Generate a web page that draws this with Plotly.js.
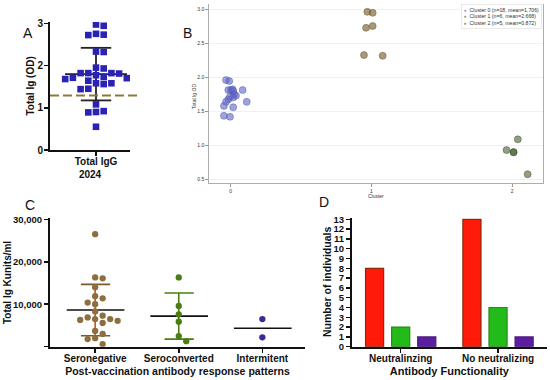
<!DOCTYPE html>
<html><head><meta charset="utf-8">
<script src="https://cdn.plot.ly/plotly-3.0.1.min.js"></script>
<style>html,body{margin:0;padding:0;background:#fff}#chart{width:550px;height:380px}</style>
</head><body><div id="chart"></div>
<script>
// ---------- Panel A data ----------
const aCategory = 'Total IgG';
const aYear = '2024';
const aYTitle = 'Total Ig (OD)';
const aValues = [2.97, 2.94, 2.75, 2.73, 2.72, 2.33, 2.32, 1.95, 1.93, 1.82, 1.82, 1.82, 1.81, 1.77, 1.73, 1.71, 1.70, 1.68, 1.64, 1.58, 1.58, 1.56, 1.45, 1.44, 1.08, 0.92, 0.90, 0.89, 0.55];
const aCutoff = 1.29;
const aTicks = [0, 1, 2, 3];

// ---------- Panel B data ----------
const bLegend = ['Cluster 0 (n=18, mean=1.706)', 'Cluster 1 (n=6, mean=2.668)', 'Cluster 2 (n=5, mean=0.872)'];
const b0x = [-0.033, -0.010, -0.017, 0.002, 0.014, 0.018, 0.085, 0.026, 0.038, -0.005, 0.017, -0.017, -0.033, 0.114, -0.048, 0.018, -0.048, -0.005];
const b0y = [1.960, 1.946, 1.813, 1.813, 1.824, 1.800, 1.813, 1.750, 1.730, 1.715, 1.705, 1.676, 1.640, 1.640, 1.580, 1.560, 1.435, 1.420];
const b1x = [0.971, 1.009, 0.962, 1.009, 0.947, 1.080];
const b1y = [2.965, 2.950, 2.730, 2.755, 2.328, 2.318];
const b2x = [2.04, 1.96, 2.01, 2.01, 2.11];
const b2y = [1.088, 0.930, 0.897, 0.900, 0.574];
const bXTicks = [0, 1, 2];
const bYTicks = [0.5, 1.0, 1.5, 2.0, 2.5, 3.0];
const bXTitle = 'Cluster';
const bYTitle = 'Total Ig OD';

// ---------- Panel C data ----------
const cCategories = ['Seronegative', 'Seroconverted', 'Intermitent'];
const cSeronegative = [26500, 16300, 16100, 14000, 11900, 11400, 10400, 10000, 8300, 7300, 6900, 6500, 6500, 6300, 6100, 5600, 3700, 3000, 2000, 1800, 600];
const cSeroconverted = [16300, 9600, 7600, 5900, 2500, 1300];
const cIntermitent = [6500, 2200];
const cYTicks = [0, 10000, 20000, 30000];
const cYTickText = ['', '10,000', '20,000', '30,000'];
const cXTitle = 'Post-vaccination antibody response patterns';
const cYTitle = 'Total Ig Kunits/ml';

// ---------- Panel D data ----------
const dCategories = ['Neutralinzing', 'No neutralizing'];
const dSeronegative = [8, 13];
const dSeroconverted = [2, 4];
const dIntermitent = [1, 1];
const dYTicks = [0,1,2,3,4,5,6,7,8,9,10,11,12,13];
const dXTitle = 'Antibody Functionality';
const dYTitle = 'Number of individuals';

// ---------- helpers ----------
const W = 550, H = 380;
const FONT = 'Liberation Sans, Arial, Helvetica, sans-serif';
const px = x => x / W;
const py = y => 1 - y / H;
const bold = (s) => ({family: FONT, size: s, color: '#111', weight: 'bold'});
const mean = a => a.reduce((s, v) => s + v, 0) / a.length;
const sd = a => { const m = mean(a); return Math.sqrt(a.reduce((s, v) => s + (v - m) * (v - m), 0) / (a.length - 1)); };

// beeswarm: returns column index per value (columns spaced one marker apart)
function beeswarm(vals, pxPerUnit, diam) {
  const idx = vals.map((v, i) => i).sort((i, j) => vals[j] - vals[i]);
  const placed = [];
  const cols = new Array(vals.length).fill(0);
  idx.forEach(i => {
    const yp = vals[i] * pxPerUnit;
    for (let n = 0; n < 40; n++) {
      const k = n === 0 ? 0 : (n % 2 === 1 ? (n + 1) / 2 : -n / 2);
      if (!placed.some(p => p.c === k && Math.abs(p.y - yp) < diam)) {
        placed.push({c: k, y: yp}); cols[i] = k; break;
      }
    }
  });
  return cols;
}

const traces = [];
const line = (x, y, color, width, xa, ya) => traces.push({type: 'scatter', mode: 'lines', x, y, xaxis: xa, yaxis: ya, line: {color, width}, showlegend: false, hoverinfo: 'skip'});

// ---------- Panel A ----------
const aRange = [0, 3.03];
const aPxPerUnit = (150 - 22) / (aRange[1] - aRange[0]);
const aXRange = [-1.15, 0.85];
const aStep = 7.7 / (80 / (aXRange[1] - aXRange[0]));
const aCols = beeswarm(aValues, aPxPerUnit, 6.8);
const aM = mean(aValues), aS = sd(aValues);
line([0, 0], [aM - aS, aM + aS], '#222', 1.8, 'x', 'y');
line([-0.775, 0.775], [aM, aM], '#222', 1.8, 'x', 'y');
line([-0.38, 0.38], [aM + aS, aM + aS], '#222', 1.8, 'x', 'y');
line([-0.38, 0.38], [aM - aS, aM - aS], '#222', 1.8, 'x', 'y');
traces.push({type: 'scatter', mode: 'markers', x: aCols.map(c => c * aStep), y: aValues, xaxis: 'x', yaxis: 'y',
  marker: {symbol: 'square', size: 6.6, color: '#2a22b5'}, showlegend: false});

// ---------- Panel B ----------
const bColors = ['rgba(95,102,197,0.6)', 'rgba(112,83,33,0.6)', 'rgba(68,95,47,0.6)'];
const bEdges = ['rgba(80,86,170,0.75)', 'rgba(100,78,40,0.75)', 'rgba(60,80,45,0.75)'];
[[b0x, b0y], [b1x, b1y], [b2x, b2y]].forEach((d, i) => {
  traces.push({type: 'scatter', mode: 'markers', x: d[0], y: d[1], xaxis: 'x2', yaxis: 'y2', name: bLegend[i],
    marker: {size: 7, color: bColors[i], line: {color: bEdges[i], width: 0.6}}, showlegend: false});
});

// ---------- Panel C ----------
const cRange = [0, 30300];
const cPxPerUnit = (346.7 - 218) / (cRange[1] - cRange[0]);
const cXRange = [-0.54, 2.51];
const cStep = 7.5 / (255 / (cXRange[1] - cXRange[0]));
const cGroups = [cSeronegative, cSeroconverted, cIntermitent];
const cPointColors = ['#8d6e3f', '#4a7d12', '#3b2b96'];
const cStemColors = ['#cf4a30', '#4a7d12', '#3b2b96'];
const cSdColors = ['#7a5a30', '#4a7d12', '#3b2b96'];
cGroups.forEach((g, gi) => {
  const m = mean(g);
  if (g.length > 2) {
    const s = sd(g);
    line([gi, gi], [m - s, m + s], cStemColors[gi], 1.6, 'x3', 'y3');
    line([gi - 0.17, gi + 0.18], [m + s, m + s], cSdColors[gi], 1.6, 'x3', 'y3');
    line([gi - 0.17, gi + 0.18], [m - s, m - s], cSdColors[gi], 1.6, 'x3', 'y3');
  }
  line([gi - 0.34, gi + 0.35], [m, m], '#111', 1.6, 'x3', 'y3');
  const cols = beeswarm(g, cPxPerUnit, 6.6);
  traces.push({type: 'scatter', mode: 'markers', x: cols.map(c => gi + c * cStep), y: g, xaxis: 'x3', yaxis: 'y3',
    marker: {size: 6.3, color: cPointColors[gi]}, showlegend: false, name: cCategories[gi]});
});

// ---------- Panel D ----------
const dSeries = [dSeronegative, dSeroconverted, dIntermitent];
const dColors = ['#ff1a0a', '#22bb1a', '#5a1e9e'];
const dEdges = ['#8a2a08', '#2a8a18', '#4a1a80'];
dSeries.forEach((s, i) => {
  traces.push({type: 'bar', x: dCategories, y: s, xaxis: 'x4', yaxis: 'y4', name: cCategories[i],
    marker: {color: dColors[i], line: {color: dEdges[i], width: 1.2}}, showlegend: false});
});

// ---------- layout ----------
const axBase = {showline: true, linecolor: '#111', linewidth: 2, ticks: 'outside', ticklen: 4, tickwidth: 1.5, tickcolor: '#111',
  showgrid: false, zeroline: false, fixedrange: true};
const yTitle = (text, x, y, font) => ({text, xref: 'paper', yref: 'paper', x: px(x), y: py(y), textangle: -90,
  showarrow: false, xanchor: 'center', yanchor: 'middle', font});

const layout = {
  width: W, height: H, margin: {l: 0, r: 0, t: 0, b: 0}, paper_bgcolor: '#fff', plot_bgcolor: 'rgba(0,0,0,0)',
  showlegend: false, barmode: 'group', bargap: 0.196, bargroupgap: 0.306,
  font: {family: FONT, color: '#111'},
  // A
  xaxis: Object.assign({}, axBase, {domain: [px(50), px(130)], anchor: 'y', range: aXRange, tickvals: [0], ticktext: [aCategory],
    tickfont: bold(10), ticklabelstandoff: -3, title: {text: aYear, font: bold(10), standoff: 5}}),
  yaxis: Object.assign({}, axBase, {domain: [py(150), py(22)], anchor: 'x', range: aRange, tickvals: aTicks,
    tickfont: bold(10), ticklabelstandoff: -1}),
  // B
  xaxis2: {domain: [px(209), px(542.7)], anchor: 'y2', range: [-0.154, 2.217], tickvals: bXTicks, ticks: 'outside', ticklen: 3, tickwidth: 0.6,
    tickcolor: '#555', showline: true, linecolor: '#999', linewidth: 0.8, showgrid: false, zeroline: false,
    tickfont: {family: FONT, size: 5, color: '#333'}, title: {text: bXTitle, font: {family: FONT, size: 5, color: '#333'}, standoff: 0}},
  yaxis2: {domain: [py(182.7), py(4)], anchor: 'x2', range: [0.45, 3.08], tickvals: bYTicks, tickformat: '.1f', ticks: 'outside', ticklen: 3,
    tickwidth: 0.6, tickcolor: '#555', showline: true, mirror: true, linecolor: '#999', linewidth: 0.8, showgrid: true, gridcolor: '#ececec',
    gridwidth: 0.8, zeroline: false, tickfont: {family: FONT, size: 5, color: '#333'}},
  // C
  xaxis3: Object.assign({}, axBase, {domain: [px(50), px(305)], anchor: 'y3', range: cXRange, tickvals: [0, 1, 2], ticktext: cCategories,
    tickfont: bold(10), ticklabelstandoff: -3, title: {text: cXTitle, font: bold(10.5), standoff: 5}}),
  yaxis3: Object.assign({}, axBase, {domain: [py(346.7), py(218)], anchor: 'x3', range: cRange, tickvals: cYTicks, ticktext: cYTickText,
    tickfont: bold(9.5)}),
  // D
  xaxis4: Object.assign({}, axBase, {domain: [px(352), px(546.7)], anchor: 'y4', type: 'category', range: [-0.5, 1.5],
    tickfont: bold(10), ticklabelstandoff: -3, title: {text: dXTitle, font: bold(11), standoff: 5}}),
  yaxis4: Object.assign({}, axBase, {domain: [py(346.7), py(218.3)], anchor: 'x4', range: [0, 13.1], tickvals: dYTicks,
    tickfont: bold(9.5)}),
  shapes: [
    {type: 'line', xref: 'paper', yref: 'y', x0: px(50), x1: px(137), y0: aCutoff, y1: aCutoff, layer: 'above',
      line: {color: '#8c7a3c', width: 2, dash: '9px,4px'}}
  ],
  annotations: [
    {text: 'A', xref: 'paper', yref: 'paper', x: px(21), y: py(23), showarrow: false, font: {family: FONT, size: 14, color: '#111'}},
    {text: 'B', xref: 'paper', yref: 'paper', x: px(187), y: py(23), showarrow: false, font: {family: FONT, size: 14, color: '#111'}},
    {text: 'C', xref: 'paper', yref: 'paper', x: px(22.5), y: py(205), showarrow: false, font: {family: FONT, size: 14, color: '#111'}},
    {text: 'D', xref: 'paper', yref: 'paper', x: px(323.5), y: py(202), showarrow: false, font: {family: FONT, size: 14, color: '#111'}},
    yTitle(aYTitle, 29.5, 86, bold(10)),
    yTitle(bYTitle, 194, 97, {family: FONT, size: 5, color: '#333'}),
    yTitle(cYTitle, 7, 283, bold(10)),
    yTitle(dYTitle, 326.5, 282.5, bold(10.5)),
    {text: bLegend.map((t, i) => '<span style="color:' + bColors[i] + '">●</span>  ' + t).join('<br>'),
      xref: 'paper', yref: 'paper', x: px(542), y: py(4.5), xanchor: 'right', yanchor: 'top', align: 'left', showarrow: false,
      bgcolor: '#fff', bordercolor: '#dddddd', borderwidth: 0.6, borderpad: 2, font: {family: FONT, size: 5.2, color: '#333'}}
  ]
};

Plotly.newPlot('chart', traces, layout, {displayModeBar: false, staticPlot: true});
</script>
</body></html>
